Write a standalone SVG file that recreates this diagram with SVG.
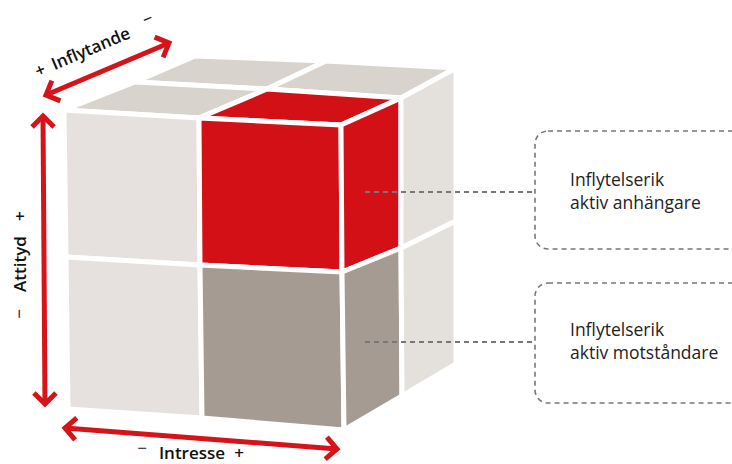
<svg xmlns="http://www.w3.org/2000/svg" width="732" height="464" viewBox="0 0 732 464">
<style>
.face{stroke:#fff;stroke-width:5;stroke-linejoin:round}
.fr{fill:#e6e1de}.tp{fill:#d8d3cd}.sd{fill:#e4e0dc}.red{fill:#d31016}.gr{fill:#a69b92}
.axis{fill:none;stroke:#d7131a;stroke-width:5}
.lab{font-family:"Open Sans","Liberation Sans",sans-serif;font-weight:600;font-size:17px;fill:#111}
.pm{font-family:"Open Sans","Liberation Sans",sans-serif;font-weight:400;font-size:17px;fill:#111}
.box{fill:none;stroke:#777;stroke-width:1.6;stroke-dasharray:5 4}
.conn{fill:none;stroke:#777;stroke-width:2;stroke-dasharray:5 4}
.bt{font-family:"Open Sans","Liberation Sans",sans-serif;font-size:17.5px;fill:#222}
</style>
<defs>
<marker id="chev" markerUnits="userSpaceOnUse" markerWidth="30" markerHeight="30" viewBox="-20 -15 30 30" refX="0" refY="0" orient="auto-start-reverse">
<path d="M-11,-11 L0,0 L-11,11" fill="none" stroke="#d7131a" stroke-width="5"/>
</marker>
</defs>
<g id="cube">
<polygon class="face tp" points="195,56 326,61 267,89 135,82"/>
<polygon class="face tp" points="326,61 456,68 401,98 267,89"/>
<polygon class="face tp" points="64,110 199,118 267,89 135,82"/>
<polygon class="face red" points="199,118 341,125 401,98 267,89"/>
<polygon class="face fr" points="64,110 199,118 200,265 66,257"/>
<polygon class="face fr" points="66,257 200,265 202,418 68,409"/>
<polygon class="face red" points="199,118 341,125 342,272 200,265"/>
<polygon class="face gr" points="200,265 342,272 344,430 202,418"/>
<polygon class="face red" points="341,125 401,98 401,248 342,272"/>
<polygon class="face gr" points="342,272 401,248 402,396 344,430"/>
<polygon class="face sd" points="401,98 456,68 456,221 401,248"/>
<polygon class="face sd" points="401,248 456,221 456,364 402,396"/>
</g>
<g id="axes">
<path class="axis" d="M46,95 L169,43" marker-start="url(#chev)" marker-end="url(#chev)"/>
<path class="axis" d="M43,116 L45,404" marker-start="url(#chev)" marker-end="url(#chev)"/>
<path class="axis" d="M65,428 L337,449" marker-start="url(#chev)" marker-end="url(#chev)"/>
</g>
<g id="label-inflytande" transform="translate(93,54) rotate(-23)">
<text class="lab" x="0" y="0" text-anchor="middle">Inflytande</text>
<text class="lab" x="-55" y="0" text-anchor="middle">+</text>
<text class="pm" x="64" y="-5" text-anchor="middle">−</text>
</g>
<g id="label-attityd" transform="translate(26,264) rotate(-90)">
<text class="lab" x="0" y="0" text-anchor="middle">Attityd</text>
<text class="lab" x="48" y="0" text-anchor="middle">+</text>
<text class="pm" x="-50" y="-1" text-anchor="middle">−</text>
</g>
<g id="label-intresse">
<text class="lab" x="192" y="459" text-anchor="middle">Intresse</text>
<text class="lab" x="239" y="459" text-anchor="middle">+</text>
<text class="pm" x="142" y="454" text-anchor="middle">−</text>
</g>
<g id="connectors">
<line class="conn" x1="365" y1="192" x2="535" y2="192"/>
<line class="conn" x1="365" y1="342" x2="535" y2="342"/>
</g>
<g id="box-anhangare">
<rect class="box" x="535" y="131" width="230" height="118" rx="13"/>
<text class="bt" x="570" y="186">Inflytelserik</text>
<text class="bt" x="570" y="209">aktiv anhängare</text>
</g>
<g id="box-motstandare">
<rect class="box" x="535" y="283" width="230" height="120" rx="13"/>
<text class="bt" x="570" y="336">Inflytelserik</text>
<text class="bt" x="570" y="359">aktiv motståndare</text>
</g>
</svg>
